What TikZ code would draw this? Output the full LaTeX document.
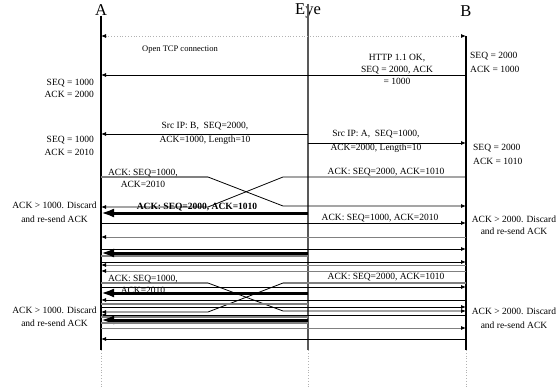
\documentclass[tikz,border=0pt]{standalone}
\usepackage{fontspec}
\setmainfont{Liberation Serif}
\usetikzlibrary{arrows.meta}

\begin{document}
\begin{tikzpicture}[x=1pt, y=-1pt,
    life/.style={line width=1.2pt},
    tail/.style={gray!60, dotted, line width=0.8pt},
    msg/.style={line width=0.8pt, -{Latex[length=5pt,width=4pt,black]}},
    faint/.style={gray, line width=1.4pt},
    push/.style={line width=3pt, -{Latex[length=13pt,width=9pt]}},
    lbl/.style={font=\fontsize{9.5}{13}\selectfont, align=center, inner sep=0pt},
    head/.style={font=\fontsize{16.5}{18}\selectfont, inner sep=0pt}]
    \useasboundingbox (0,0) rectangle (558,388);

    \node[head] at (101, 10) (A) {A};
    \node[head] at (308, 11) (E) {Eye};
    \node[head] at (466, 11) (B) {B};

    \coordinate (a) at (101, 350);
    \coordinate (e) at (308, 350);
    \coordinate (b) at (466, 350);
    \coordinate (btop) at (466, 36);
    \coordinate (cl) at (208, 0);
    \coordinate (cr) at (283, 0);

    \draw[life] (A.south) -- (a);
    \draw[life, black!65] (E.north) -- (e);
    \draw[life] (btop) -- (b);
    \foreach \p in {a, e, b}
        \draw[tail] (\p) -- ++(0, 38);

    \draw[tail, {Latex[length=5pt,width=4pt,black]}-{Latex[length=5pt,width=4pt,black]}] (A.south |- btop) -- (btop);
    \node[lbl, font=\fontsize{8.5}{10}\selectfont] at (180, 50) (open) {Open TCP connection};

    \draw[msg] (b |- 0,75) -- (a |- 0,75);
    \node[lbl, font=\fontsize{9.5}{12}\selectfont] at (397, 69) (http) {HTTP 1.1 OK,\\SEQ = 2000, ACK\\= 1000};
    \node[lbl, font=\fontsize{9.5}{11.5}\selectfont, anchor=east, align=right] at (94, 88.5) (sa1) {SEQ = 1000\\ACK = 2000};
    \node[lbl, font=\fontsize{9.5}{14}\selectfont, anchor=west, align=left] at (470, 62) (sb1) {SEQ = 2000\\ACK = 1000};

    \draw[msg] (e |- 0,134) -- (a |- 0,134);
    \draw[msg] (e |- 0,143) -- (b |- 0,143);
    \node[lbl, font=\fontsize{9.5}{14.5}\selectfont] at (205, 133.5) (srcb) {Src IP: B,\ \ SEQ=2000,\\ACK=1000, Length=10};
    \node[lbl, font=\fontsize{9.5}{13.5}\selectfont] at (376, 141.5) (srca) {Src IP: A,\ \ SEQ=1000,\\ACK=2000, Length=10};
    \node[lbl, anchor=east, align=right] at (94, 145.5) (sa2) {SEQ = 1000\\ACK = 2010};
    \node[lbl, font=\fontsize{9.5}{14}\selectfont, anchor=west, align=left] at (473, 154) (sb2) {SEQ = 2000\\ACK = 1010};

    \draw[msg] (a |- 0,177) -- (cl |- 0,177) -- (cr |- 0,206) -- (b |- 0,206);
    \draw[faint] (a |- 0,177) -- (cl |- 0,177);
    \draw[msg] (b |- 0,177) -- (cr |- 0,177) -- (cl |- 0,207) -- (a |- 0,207);
    \draw[push] (e |- 0,213) -- (a |- 0,213);
    \draw[msg] (a |- 0,223) -- (b |- 0,223);
    \draw[msg, gray] (b |- 0,237) -- (a |- 0,237);
    \draw[msg] (a |- 0,249) -- (b |- 0,249);
    \node[lbl, font=\fontsize{9.5}{12}\selectfont] at (143, 178) (acka1) {ACK: SEQ=1000,\\ACK=2010};
    \node[lbl] at (386, 172) (ackb1) {ACK: SEQ=2000, ACK=1010};
    \node[lbl, font=\bfseries\fontsize{9.5}{12}\selectfont] at (197, 207) (forged) {ACK: SEQ=2000, ACK=1010};
    \node[lbl, font=\fontsize{9.5}{14}\selectfont] at (54.5, 212) (dropa1) {ACK > 1000. Discard\\and re-send ACK};
    \node[lbl] at (380, 218) (acka2) {ACK: SEQ=1000, ACK=2010};
    \node[lbl, font=\fontsize{9.5}{12}\selectfont] at (514, 225) (dropb1) {ACK > 2000. Discard\\and re-send ACK};

    \draw[faint] (a |- 0,256) -- (e |- 0,256);
    \draw[push] (e |- 0,253) -- (a |- 0,253);
    \draw[msg] (a |- 0,262) -- (b |- 0,262);
    \draw[msg, gray] (b |- 0,265) -- (a |- 0,265);
    \draw[msg, gray] (b |- 0,271) -- (a |- 0,271);
    \draw[msg] (a |- 0,283) -- (cl |- 0,283) -- (cr |- 0,311) -- (b |- 0,311);
    \draw[msg] (b |- 0,283) -- (cr |- 0,283) -- (cl |- 0,312) -- (a |- 0,312);
    \draw[faint] (a |- 0,283) -- (cl |- 0,283);
    \draw[faint] (b |- 0,283) -- (cr |- 0,283);
    \draw[msg] (a |- 0,287) -- (b |- 0,287);
    \draw[push] (e |- 0,293) -- (a |- 0,293);
    \draw[msg] (b |- 0,300) -- (a |- 0,300);
    \draw[faint] (a |- 0,304) -- (e |- 0,304);
    \draw[msg] (a |- 0,307) -- (b |- 0,307);
    \draw[msg] (b |- 0,315) -- (a |- 0,315);
    \draw[faint] (a |- 0,317) -- (e |- 0,317);
    \draw[push] (e |- 0,320) -- (a |- 0,320);
    \draw[faint] (a |- 0,323) -- (e |- 0,323);
    \draw[msg, gray] (a |- 0,328) -- (b |- 0,328);
    \draw[msg] (b |- 0,339) -- (a |- 0,339);
    \node[lbl, font=\fontsize{9.5}{12.5}\selectfont] at (143, 284.5) (acka3) {ACK: SEQ=1000,\\ACK=2010};
    \node[lbl] at (386, 277) (ackb2) {ACK: SEQ=2000, ACK=1010};
    \node[lbl] at (54.5, 316.5) (dropa2) {ACK > 1000. Discard\\and re-send ACK};
    \node[lbl, font=\fontsize{9.5}{14}\selectfont] at (514, 318) (dropb2) {ACK > 2000. Discard\\and re-send ACK};
\end{tikzpicture}
\end{document}
